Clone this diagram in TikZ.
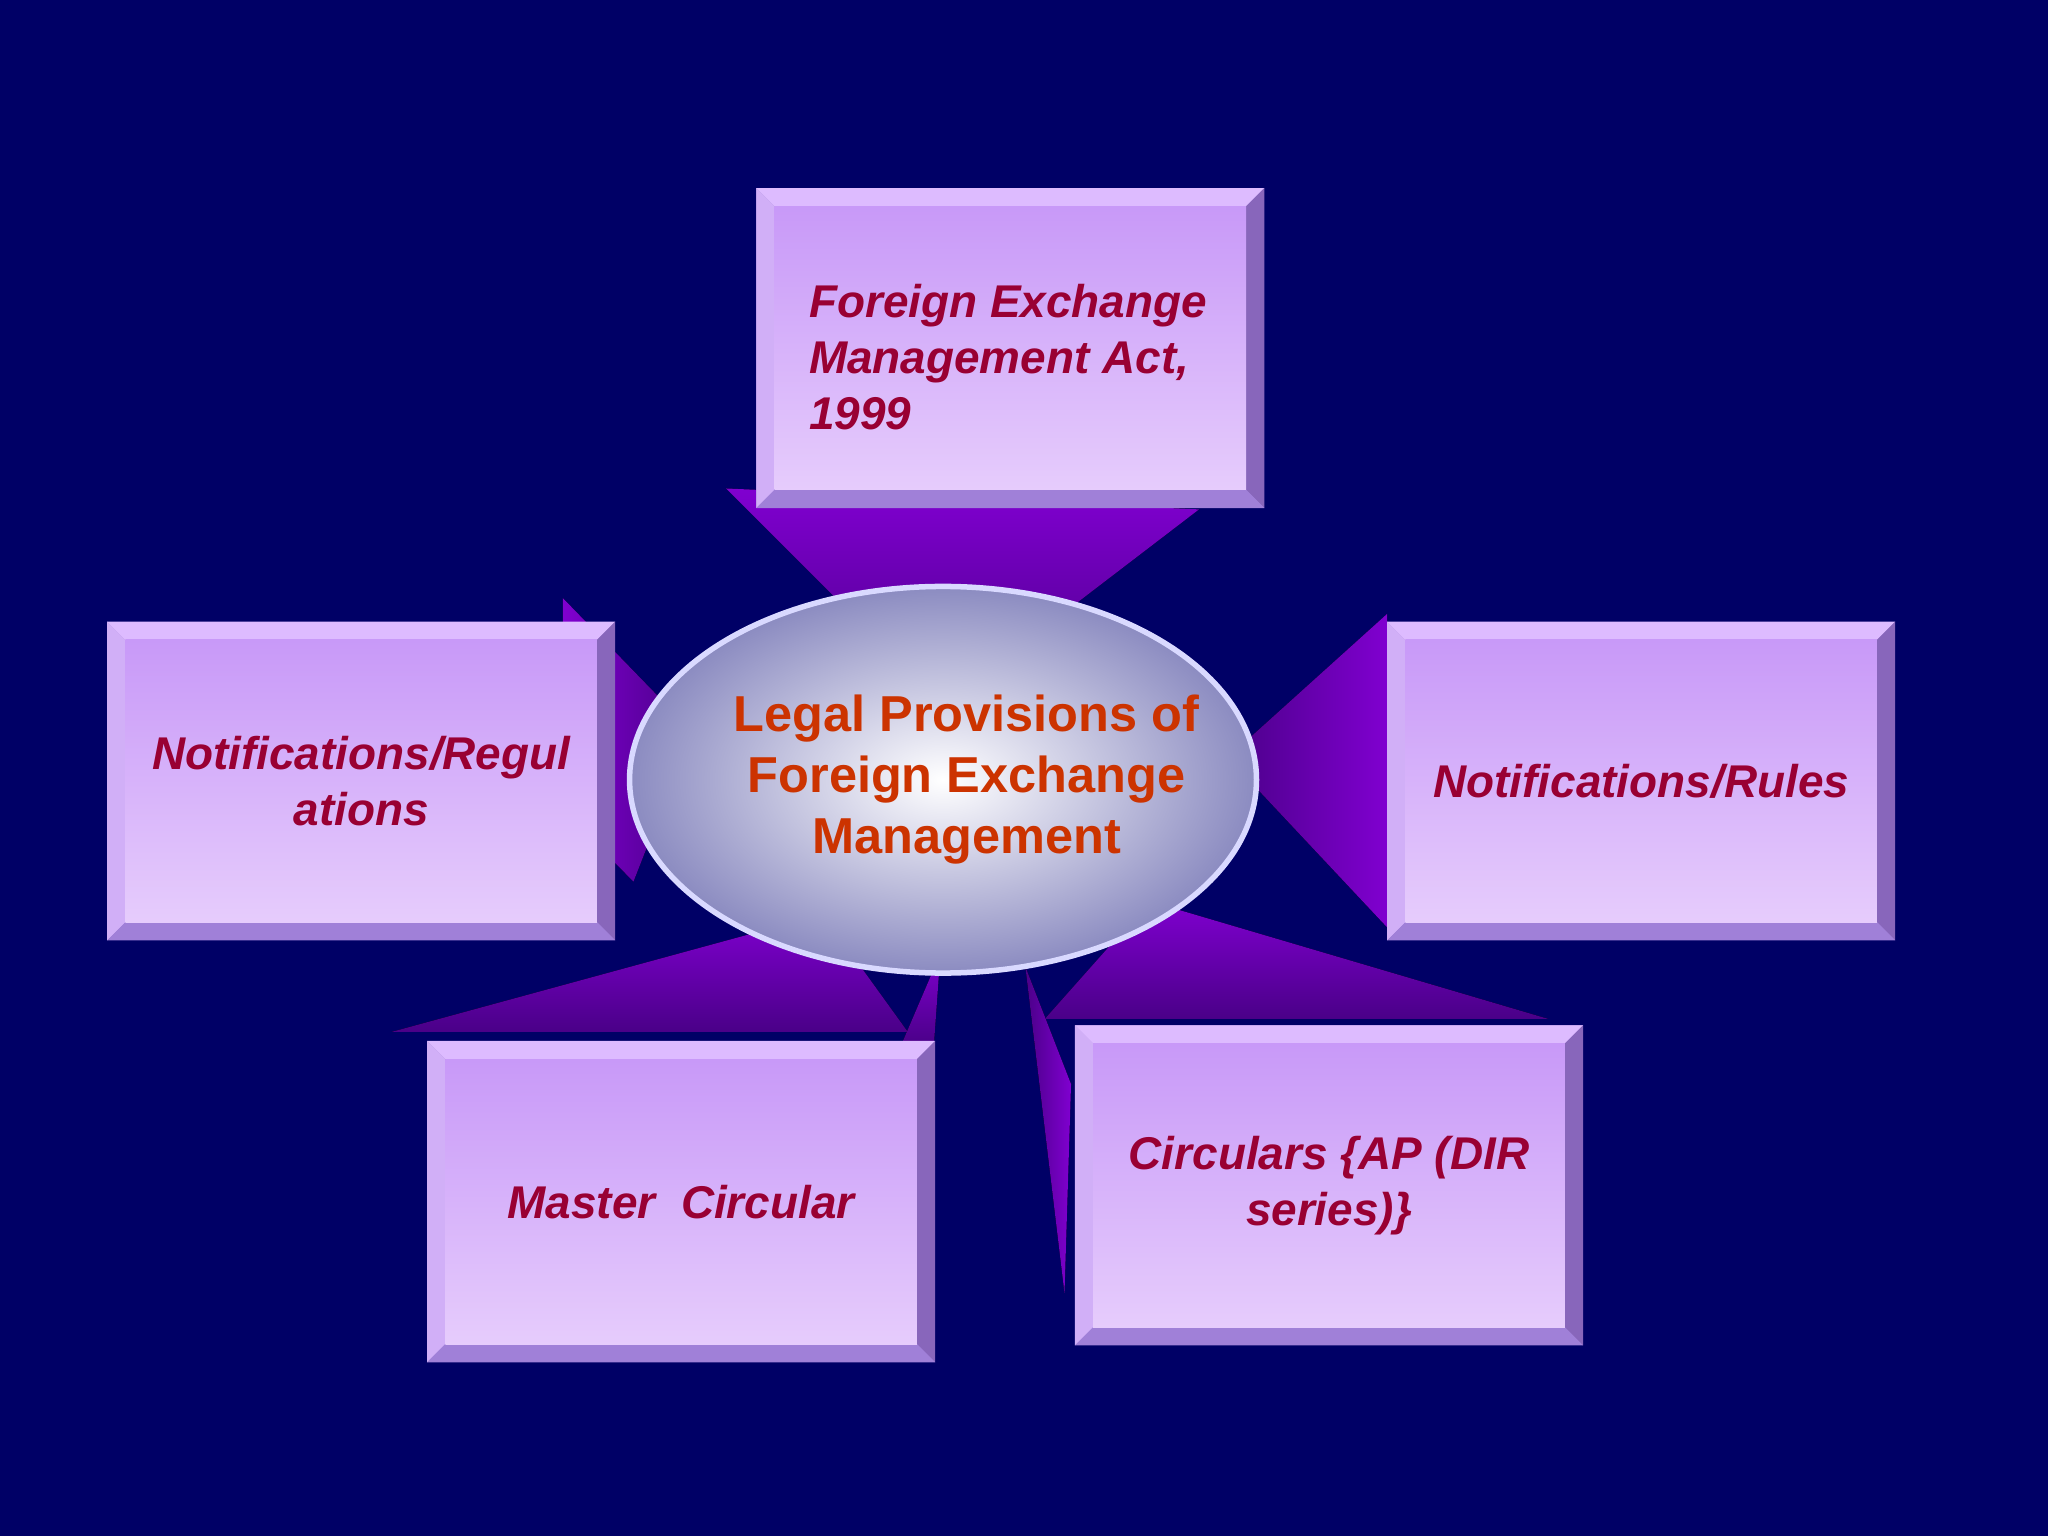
\documentclass[tikz,border=0pt]{standalone}
\usepackage{fontspec}
\setmainfont{Liberation Sans}
\usetikzlibrary{calc}
\definecolor{bg}{HTML}{000066}
\definecolor{boxtop}{HTML}{C899F8}
\definecolor{boxbot}{HTML}{E6CCFC}
\definecolor{bevlight}{HTML}{DDBBFF}
\definecolor{bevdark}{HTML}{8866BB}
\definecolor{bevmid}{HTML}{A080D8}
\definecolor{txt}{HTML}{990033}
\definecolor{otxt}{HTML}{CC3300}
\definecolor{wedgeA}{HTML}{8000D0}
\definecolor{wedgeB}{HTML}{4A0088}
\tikzset{
  wedge/.style={top color=wedgeA,bottom color=wedgeB,draw=none},
  lbl/.style={text=txt,font=\fontsize{10}{12.2}\selectfont\bfseries\itshape,align=center}
}
\newcommand\bevbox[6]{%
  \fill[bevmid] (#1,#2) rectangle (#3,#4);
  \fill[bevlight] (#1,#2) -- (#3,#2) -- ($(#3,#2)+(-0.14,-0.14)$) -- ($(#1,#2)+(0.14,-0.14)$) -- cycle;
  \fill[bevlight!80!bevmid] (#1,#2) -- ($(#1,#2)+(0.14,-0.14)$) -- ($(#1,#4)+(0.14,0.14)$) -- (#1,#4) -- cycle;
  \fill[bevdark] (#3,#2) -- (#3,#4) -- ($(#3,#4)+(-0.14,0.14)$) -- ($(#3,#2)+(-0.14,-0.14)$) -- cycle;
  \fill[bevmid] (#1,#4) -- (#3,#4) -- ($(#3,#4)+(-0.14,0.14)$) -- ($(#1,#4)+(0.14,0.14)$) -- cycle;
  \shade[top color=boxtop,bottom color=boxbot] ($(#1,#2)+(0.14,-0.14)$) rectangle ($(#3,#4)+(-0.14,0.14)$);
  \node[lbl] (#5) at ($(#1,#2)!0.5!(#3,#4)$) {#6};
}
\begin{document}
\begin{tikzpicture}
\useasboundingbox (0,0) rectangle (15.68,-11.76);
\fill[bg] (0,0) rectangle (15.68,-11.76);
% wedges
\fill[wedge] (5.56,-3.74) -- (9.18,-3.90) -- (7.22,-5.40) -- cycle;
\fill[left color=wedgeA,right color=wedgeB] (4.31,-4.58) -- (5.30,-5.60) -- (4.85,-6.75) -- (4.31,-6.20) -- cycle;
\fill[right color=wedgeA,left color=wedgeB] (10.62,-4.70) -- (9.40,-5.80) -- (10.62,-7.10) -- cycle;
\fill[wedge] (3.00,-7.90) -- (6.95,-7.90) -- (6.30,-7.00) -- cycle;
\fill[wedge] (6.90,-8.00) -- (7.20,-7.30) -- (7.15,-8.00) -- cycle;
\fill[wedge] (8.00,-7.80) -- (11.85,-7.80) -- (8.80,-6.90) -- cycle;
\fill[left color=wedgeB,right color=wedgeA] (7.85,-7.40) -- (8.15,-9.90) -- (8.20,-8.30) -- cycle;
% boxes
\bevbox{5.79}{-1.44}{9.68}{-3.89}{fema}{}
\node[lbl,align=left,anchor=north west] (femat) at (6.07,-2.05) {Foreign Exchange\\Management Act,\\1999};
\bevbox{0.82}{-4.76}{4.71}{-7.20}{regs}{Notifications/Regul\\ations}
\bevbox{10.62}{-4.76}{14.51}{-7.20}{rules}{Notifications/Rules}
\bevbox{3.27}{-7.97}{7.16}{-10.43}{master}{Master\ \ Circular}
\bevbox{8.23}{-7.85}{12.12}{-10.30}{circ}{Circulars \{AP (DIR\\series)\}}
% ellipse
\shade[inner color=white,outer color=blue!30!gray!70!white,draw=white!85!blue,line width=1.2pt]
  (7.22,-5.97) ellipse (2.40 and 1.48);
\shade[inner color=white,outer color=white,opacity=0.0] (7.22,-5.97) ellipse (2.40 and 1.48);
\node[text=otxt,font=\fontsize{11}{13.3}\selectfont\bfseries,align=center] (core) at (7.40,-5.97)
  {Legal Provisions of\\Foreign Exchange\\Management};
\end{tikzpicture}
\end{document}
